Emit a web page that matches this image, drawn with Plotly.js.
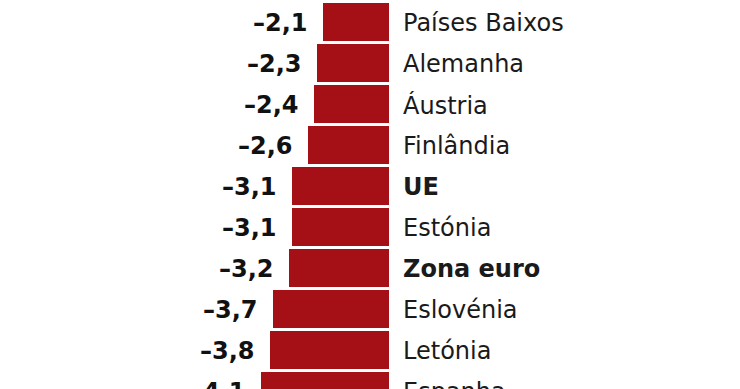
<!DOCTYPE html>
<html><head><meta charset="utf-8">
<script src="https://cdn.plot.ly/plotly-3.0.1.min.js"></script>
<style>html,body{margin:0;padding:0;background:#fff;overflow:hidden}#c{width:740px;height:430px}</style>
</head><body><div id="c"></div>
<script>
const countries = ["Países Baixos","Alemanha","Áustria","Finlândia","UE","Estónia","Zona euro","Eslovénia","Letónia","Espanha"];
const values = [-2.1,-2.3,-2.4,-2.6,-3.1,-3.1,-3.2,-3.7,-3.8,-4.1];
const boldRows = ["UE","Zona euro"];

const idx = countries.map((_, i) => i);
const fmt = v => "–" + Math.abs(v).toFixed(1).replace(".", ",");
const FONT = "'DejaVu Sans', sans-serif";

const trace = {
  type: "bar", orientation: "h",
  x: values, y: idx,
  width: 0.93,
  marker: {color: "#a50f16", line: {width: 0}},
  hoverinfo: "skip"
};

const annotations = [];
countries.forEach((c, i) => {
  annotations.push({
    x: values[i], y: i, xref: "x", yref: "y",
    text: fmt(values[i]),
    showarrow: false, xanchor: "right", yanchor: "middle", xshift: -13, yshift: -1,
    font: {family: FONT, size: 24, color: "#111", weight: 700}
  });
  const isBold = boldRows.includes(c);
  annotations.push({
    x: 0, y: i, xref: "x", yref: "y",
    text: c,
    showarrow: false, xanchor: "left", yanchor: "middle", xshift: 12, yshift: -1,
    font: {family: FONT, size: 24, color: "#1a1a1a", weight: isBold ? 700 : 400}
  });
});

const layout = {
  width: 740, height: 430,
  margin: {l: 0, r: 0, t: 0, b: 0},
  paper_bgcolor: "#fff", plot_bgcolor: "#fff",
  showlegend: false,
  xaxis: {range: [-12.43, 11.21], visible: false, fixedrange: true},
  yaxis: {range: [9.951, -0.537], visible: false, fixedrange: true},
  annotations: annotations,
  bargap: 0
};
Plotly.newPlot("c", [trace], layout, {staticPlot: true, displayModeBar: false});
</script></body></html>
